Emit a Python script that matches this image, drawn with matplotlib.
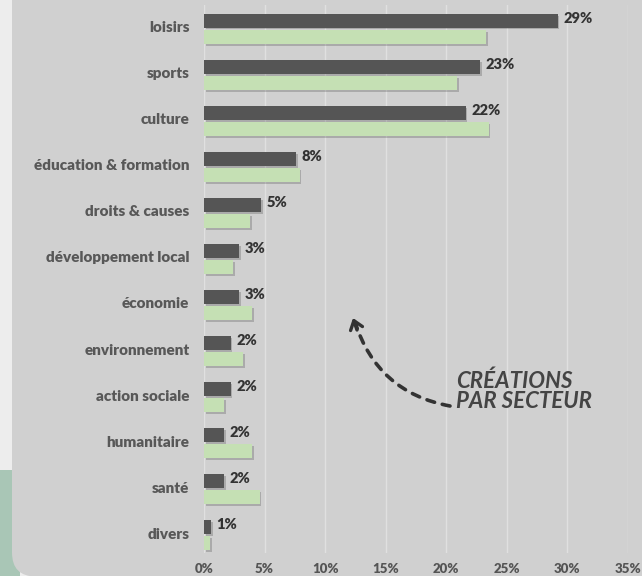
import matplotlib
matplotlib.use("Agg")
import matplotlib.pyplot as plt
import matplotlib.patheffects as pe
import matplotlib.transforms as mtransforms
from matplotlib.patches import Rectangle, FancyBboxPatch
import numpy as np

categories = ["loisirs", "sports", "culture", "éducation & formation", "droits & causes",
              "développement local", "économie", "environnement", "action sociale",
              "humanitaire", "santé", "divers"]
creations = [29.2, 22.8, 21.6, 7.6, 4.7, 2.9, 2.9, 2.2, 2.2, 1.65, 1.65, 0.6]
ensemble = [23.3, 20.9, 23.5, 7.9, 3.8, 2.4, 4.0, 3.25, 1.65, 4.0, 4.6, 0.5]
xticks = [0, 5, 10, 15, 20, 25, 30, 35]
xticklabels = ["0%", "5%", "10%", "15%", "20%", "25%", "30%", "35%"]

W, H = 642, 576
fig = plt.figure(figsize=(W / 100, H / 100), dpi=100)
fig.patch.set_facecolor("#ededed")

FONT = ["Lato", "DejaVu Sans"]

# background panels
fig.patches.append(Rectangle((0, 0), 0.2, (H - 470) / 100, transform=fig.dpi_scale_trans,
                             facecolor="#a9c6b6", edgecolor="none", zorder=0))
card = FancyBboxPatch((0.12, -0.005), 8.0, 8.0, boxstyle="round,pad=0,rounding_size=0.24",
                      transform=fig.dpi_scale_trans, facecolor="#d0d0d0", edgecolor="none",
                      zorder=1,
                      path_effects=[pe.SimplePatchShadow(offset=(1.5, 0), alpha=0.12), pe.Normal()])
fig.patches.append(card)

left = 204 / W
right = 628 / W
top = 1 - 5 / H
bottom = 1 - 553 / H
ax = fig.add_axes([left, bottom, right - left, top - bottom])
ax.set_facecolor("none")
ax.set_zorder(2)

n = len(categories)
y = np.arange(n)
off = 0.174
hgt = 0.30
shadow = [pe.SimplePatchShadow(offset=(1.2, -1.2), shadow_rgbFace="#000000", alpha=0.18), pe.Normal()]

b1 = ax.barh(y - off, creations, height=hgt, color="#555555", zorder=3)
b2 = ax.barh(y + off, ensemble, height=hgt, color="#c5e0b4", zorder=3)
for b in list(b1) + list(b2):
    b.set_path_effects(shadow)

for yi, v in zip(y, creations):
    ax.text(v + 0.45, yi - off - 0.06, f"{round(v):.0f}%", va="center", ha="left",
            fontsize=10.5, fontweight="heavy", color="#333333", family=FONT, zorder=4)

ax.set_xlim(0, 35)
ax.set_ylim(n - 1 + 0.39, -0.52)
ax.set_xticks(xticks)
ax.set_xticklabels(xticklabels, family=FONT, fontsize=9.5, fontweight="heavy", color="#555555")
ax.set_yticks(y)
ax.set_yticklabels(categories, family=FONT, fontsize=11, fontweight="heavy", color="#585858")
ax.tick_params(axis="both", length=0)
ax.tick_params(axis="y", pad=10.5)
ax.tick_params(axis="x", pad=7)
lift = mtransforms.ScaledTranslation(0, 2 / 100, fig.dpi_scale_trans)
for lab in ax.get_yticklabels():
    lab.set_transform(lab.get_transform() + lift)
for s in ax.spines.values():
    s.set_visible(False)
ax.grid(axis="x", color="#e0e0e0", linewidth=1, zorder=0)
ax.set_axisbelow(True)

# annotation
fig.text(456 / W, 1 - 370 / H, "CRÉATIONS\nPAR SECTEUR", ha="left", va="top",
         fontsize=16, fontstyle="italic", fontweight="bold", color="#444444",
         family=FONT, linespacing=0.95, zorder=5)
ax.annotate("", xy=(355, H - 322), xycoords="figure pixels",
            xytext=(450, H - 406), textcoords="figure pixels",
            arrowprops=dict(arrowstyle="-", linestyle=(0, (2.2, 2.2)), linewidth=2.6,
                            color="#333333", connectionstyle="arc3,rad=-0.3",
                            shrinkA=0, shrinkB=0))
ax.annotate("", xy=(353, H - 318), xycoords="figure pixels",
            xytext=(357, H - 330), textcoords="figure pixels",
            arrowprops=dict(arrowstyle="->,head_length=0.6,head_width=0.45", linewidth=2.4,
                            color="#333333", shrinkA=0, shrinkB=0))

fig.savefig("out.png", dpi=100, facecolor=fig.get_facecolor())
